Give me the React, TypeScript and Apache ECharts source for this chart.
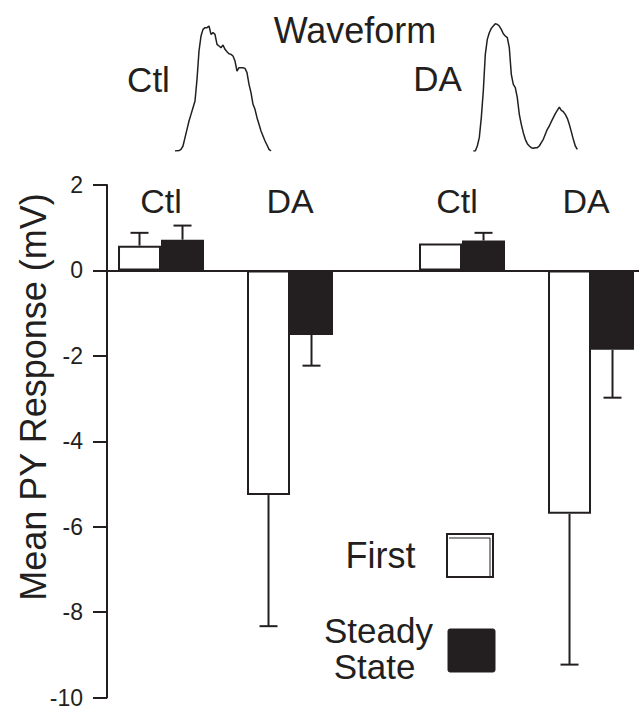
import React, { useEffect, useRef } from "react";
import * as echarts from "echarts";

// ---- data ----
const categories = ["Ctl", "DA", "Ctl", "DA"];
const firstMean = [0.58, -5.26, 0.63, -5.7];
const firstSem = [0.3, 3.07, 0, 3.53];
const steadyMean = [0.72, -1.51, 0.7, -1.86];
const steadySem = [0.33, 0.72, 0.18, 1.12];
const yTicks = [-10, -8, -6, -4, -2, 0, 2];
const seriesNames = ["First", "Steady State"];
const yTitle = "Mean PY Response (mV)";
const ctlWave = [0, 1, 1, 5, 15, 40, 65, 90, 110, 130, 150, 215, 300, 345, 365, 370, 370, 375, 350, 355, 350, 320, 315, 310, 318, 305, 298, 292, 290, 285, 270, 240, 250, 250, 250, 248, 235, 200, 175, 140, 125, 100, 80, 60, 45, 30, 18, 5, 0];
const daWave = [0, 0, 15, 40, 100, 180, 290, 335, 355, 368, 375, 382, 380, 375, 365, 352, 345, 340, 310, 230, 200, 190, 160, 110, 80, 55, 35, 22, 15, 10, 8, 10, 10, 15, 25, 35, 50, 65, 75, 88, 100, 112, 122, 132, 122, 118, 110, 98, 80, 58, 35, 15, 5];

// ---- style / layout ----
const INK = "#231f20";
const FONT = "'Liberation Sans', Arial, Helvetica, sans-serif";
const groupSlot = [0, 3, 7, 10];
const LABEL_Y = 1.63;

export default function App() {
  const ref = useRef<HTMLDivElement>(null);
  useEffect(() => {
    if (!ref.current) return;
    const chart = echarts.init(ref.current, null, { renderer: "svg" });

    const errData: number[][] = [];
    groupSlot.forEach((s, i) => {
      if (firstSem[i] > 0)
        errData.push([s, firstMean[i], firstMean[i] + Math.sign(firstMean[i]) * firstSem[i]]);
      if (steadySem[i] > 0)
        errData.push([s + 1, steadyMean[i], steadyMean[i] + Math.sign(steadyMean[i]) * steadySem[i]]);
    });

    const txt = (text: string, x: number, y: number, fontSize: number, rotation = 0) => ({
      type: "text",
      x,
      y,
      rotation,
      style: { text, fontSize, fontFamily: FONT, fill: INK, textAlign: "center", textVerticalAlign: "middle" },
    });

    const option: any = {
      animation: false,
      backgroundColor: "#ffffff",
      grid: [
        { left: 107, top: 185, width: 532, height: 516 },
        { left: 175, top: 17.7, width: 96, height: 133.3 },
        { left: 473.3, top: 17.7, width: 104, height: 133.3 },
      ],
      xAxis: [
        {
          gridIndex: 0,
          type: "value",
          min: -0.756,
          max: 11.616,
          axisLine: { show: true, onZero: true, lineStyle: { color: INK, width: 2 } },
          axisTick: { show: false },
          axisLabel: { show: false },
          splitLine: { show: false },
        },
        { gridIndex: 1, type: "category", boundaryGap: false, show: false, data: ctlWave.map((_, i) => i) },
        { gridIndex: 2, type: "category", boundaryGap: false, show: false, data: daWave.map((_, i) => i) },
      ],
      yAxis: [
        {
          gridIndex: 0,
          type: "value",
          min: yTicks[0],
          max: yTicks[yTicks.length - 1],
          interval: 2,
          axisLine: { show: true, onZero: false, lineStyle: { color: INK, width: 2 } },
          axisTick: { show: true, length: 14, lineStyle: { color: INK, width: 2 } },
          axisLabel: { show: true, margin: 24, fontSize: 23, color: INK, fontFamily: FONT },
          splitLine: { show: false },
        },
        { gridIndex: 1, type: "value", min: 0, max: 400, show: false },
        { gridIndex: 2, type: "value", min: 0, max: 400, show: false },
      ],
      series: [
        {
          name: seriesNames[0],
          type: "bar",
          xAxisIndex: 0,
          yAxisIndex: 0,
          barWidth: 43,
          barGap: "-100%",
          data: groupSlot.map((s, i) => [s, firstMean[i]]),
          itemStyle: { color: "#ffffff", borderColor: INK, borderWidth: 2 },
        },
        {
          name: seriesNames[1],
          type: "bar",
          xAxisIndex: 0,
          yAxisIndex: 0,
          barWidth: 43,
          barGap: "-100%",
          data: groupSlot.map((s, i) => [s + 1, steadyMean[i]]),
          itemStyle: { color: INK, borderColor: INK, borderWidth: 2 },
        },
        {
          type: "custom",
          xAxisIndex: 0,
          yAxisIndex: 0,
          z: 3,
          data: errData,
          renderItem: (params: any, api: any) => {
            const x = api.value(0);
            const p0 = api.coord([x, api.value(1)]);
            const p1 = api.coord([x, api.value(2)]);
            return {
              type: "group",
              children: [
                { type: "line", shape: { x1: p0[0], y1: p0[1], x2: p1[0], y2: p1[1] }, style: { stroke: INK, lineWidth: 2 } },
                { type: "line", shape: { x1: p1[0] - 9, y1: p1[1], x2: p1[0] + 9, y2: p1[1] }, style: { stroke: INK, lineWidth: 2 } },
              ],
            };
          },
        },
        {
          type: "custom",
          xAxisIndex: 0,
          yAxisIndex: 0,
          z: 3,
          data: groupSlot.map((s, i) => [s + 0.5, i]),
          renderItem: (params: any, api: any) => {
            const p = api.coord([api.value(0), LABEL_Y]);
            return {
              type: "text",
              x: p[0] - (api.value(1) >= 2 ? 5 : 0),
              y: p[1],
              style: {
                text: categories[api.value(1)],
                fontSize: 34,
                fontFamily: FONT,
                fill: INK,
                textAlign: "center",
                textVerticalAlign: "middle",
              },
            };
          },
        },
        {
          type: "line",
          xAxisIndex: 1,
          yAxisIndex: 1,
          data: ctlWave,
          showSymbol: false,
          lineStyle: { color: INK, width: 1.5 },
        },
        {
          type: "line",
          xAxisIndex: 2,
          yAxisIndex: 2,
          data: daWave,
          showSymbol: false,
          lineStyle: { color: INK, width: 1.5 },
        },
      ],
      graphic: [
        txt(yTitle, 33, 397, 36, Math.PI / 2),
        txt("Waveform", 355, 30.5, 36),
        txt(categories[0], 148.5, 79, 35),
        txt(categories[1], 437.5, 78, 35),
        txt(seriesNames[0], 380.5, 555.5, 36),
        txt("Steady", 378.5, 630, 35),
        txt("State", 374.5, 666, 35),
        { type: "rect", shape: { x: 447, y: 534, width: 46, height: 43 }, style: { fill: "#ffffff", stroke: INK, lineWidth: 2 } },
        { type: "polyline", shape: { points: [[449, 538], [490, 538], [490, 576]] }, style: { fill: null, stroke: INK, lineWidth: 1 } },
        { type: "rect", shape: { x: 448, y: 629, width: 47, height: 43, r: 2 }, style: { fill: INK, stroke: INK, lineWidth: 1 } },
      ],
    };

    chart.setOption(option);
    return () => chart.dispose();
  }, []);

  return (
    <div
      ref={ref}
      style={{ position: "fixed", left: 0, top: 0, width: 639, height: 709, background: "#fff" }}
    />
  );
}
